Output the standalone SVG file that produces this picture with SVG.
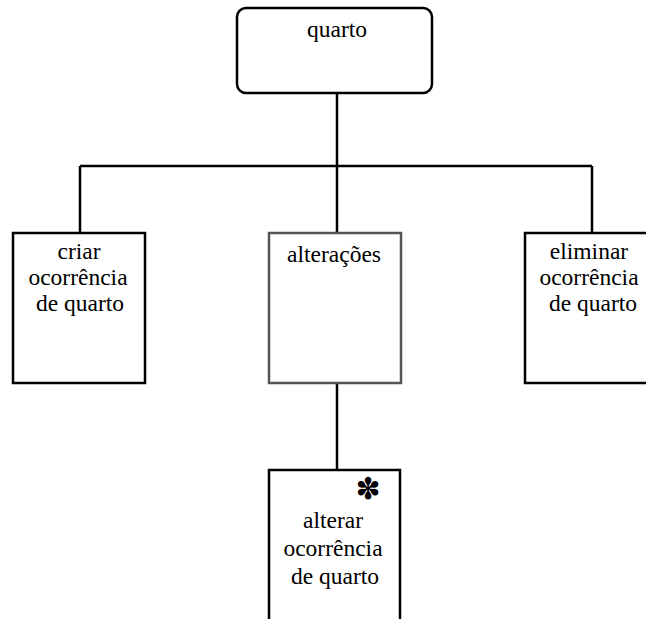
<svg xmlns="http://www.w3.org/2000/svg" width="646" height="619" viewBox="0 0 646 619">
  <style>
    .box { fill: #ffffff; stroke: #000000; stroke-width: 2.5; }
    .grey { stroke: #555555; }
    .link { fill: none; stroke: #000000; stroke-width: 2.5; }
    .lbl { font-family: 'Liberation Serif', 'Times New Roman', 'DejaVu Serif', serif; font-size: 23.5px; fill: #000000; text-anchor: middle; }
    .star { font-family: 'DejaVu Sans', sans-serif; font-size: 30px; fill: #000000; text-anchor: middle; }
  </style>
  <rect width="646" height="619" fill="#ffffff"/>

  <!-- connectors -->
  <g id="connectors">
    <path class="link" d="M337 93 V166"/>
    <path class="link" d="M80 166 H592"/>
    <path class="link" d="M80 166 V233"/>
    <path class="link" d="M337 166 V233"/>
    <path class="link" d="M592 166 V233"/>
    <path class="link" d="M337 383 V470"/>
  </g>

  <g id="quarto">
    <rect class="box" x="237" y="8" width="195" height="85" rx="9"/>
    <text class="lbl" x="337" y="37">quarto</text>
  </g>

  <g id="criar">
    <rect class="box" x="13" y="233" width="132" height="150"/>
    <text class="lbl" x="79" y="259">criar</text>
    <text class="lbl" x="78" y="285">ocorrência</text>
    <text class="lbl" x="80" y="311">de quarto</text>
  </g>

  <g id="alteracoes">
    <rect class="box grey" x="269" y="233" width="132" height="150"/>
    <text class="lbl" x="334" y="262">alterações</text>
  </g>

  <g id="eliminar">
    <rect class="box" x="525" y="233" width="140" height="150"/>
    <text class="lbl" x="589" y="259">eliminar</text>
    <text class="lbl" x="589" y="285">ocorrência</text>
    <text class="lbl" x="593" y="311">de quarto</text>
  </g>

  <g id="alterar">
    <rect class="box" x="269" y="470" width="131" height="160"/>
    <text class="star" x="368" y="499">✽</text>
    <text class="lbl" x="333" y="528">alterar</text>
    <text class="lbl" x="333" y="556">ocorrência</text>
    <text class="lbl" x="335" y="584">de quarto</text>
  </g>
</svg>
